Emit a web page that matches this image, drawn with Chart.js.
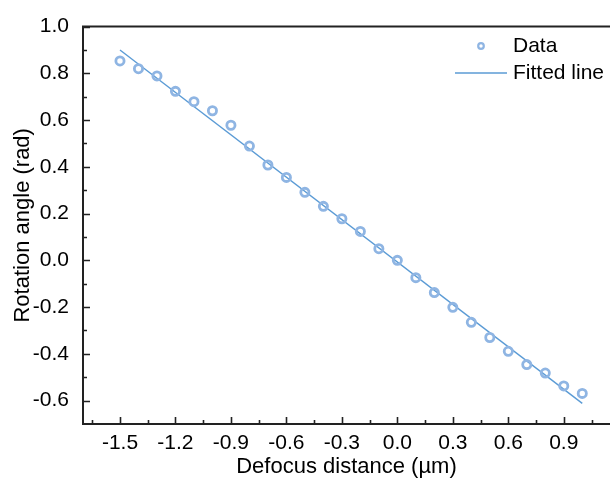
<!DOCTYPE html>
<html>
<head>
<meta charset="utf-8">
<script src="https://cdn.jsdelivr.net/npm/chart.js@4.4.0/dist/chart.umd.min.js"></script>
<style>
  html, body { margin: 0; padding: 0; background: #fff; }
  #wrap { width: 610px; height: 481px; }
</style>
</head>
<body>
<div id="wrap"><canvas id="chart" width="610" height="481"></canvas></div>
<script>
// measured points
var defocus = [-1.5, -1.4, -1.3, -1.2, -1.1, -1.0, -0.9, -0.8, -0.7, -0.6, -0.5, -0.4, -0.3,
               -0.2, -0.1, 0.0, 0.1, 0.2, 0.3, 0.4, 0.5, 0.6, 0.7, 0.8, 0.9, 1.0];
var rotation = [0.853, 0.820, 0.789, 0.723, 0.679, 0.640, 0.578, 0.489, 0.408, 0.355, 0.291, 0.231, 0.178,
                0.124, 0.050, 0.000, -0.074, -0.138, -0.201, -0.265, -0.330, -0.389, -0.446, -0.482, -0.537, -0.569];

// fitted line end points
var fitX = [-1.5, 1.0];
var fitY = [0.900, -0.612];

// axis ticks
var xTicks = [-1.5, -1.2, -0.9, -0.6, -0.3, 0.0, 0.3, 0.6, 0.9];
var xMinor = [-1.65, -1.35, -1.05, -0.75, -0.45, -0.15, 0.15, 0.45, 0.75, 1.05];
var yTicks = [-0.6, -0.4, -0.2, 0.0, 0.2, 0.4, 0.6, 0.8, 1.0];
var yMinor = [-0.5, -0.3, -0.1, 0.1, 0.3, 0.5, 0.7, 0.9];

var pointColor = '#8fb5e3';
var lineColor = '#5b9bd5';
var font = 'Liberation Sans, Arial, sans-serif';

// the plot runs off the right edge of the picture, so stretch the x axis to the canvas edge
var stretchPlugin = {
  id: 'stretch',
  afterLayout: function (chart) {
    var xs = chart.scales.x;
    xs.right = chart.width;
    xs.width = xs.right - xs.left;
    xs.configure();
    chart.chartArea.right = chart.width;
    chart.chartArea.width = chart.chartArea.right - chart.chartArea.left;
  }
};

var framePlugin = {
  id: 'frame',
  afterDraw: function (chart) {
    var ctx = chart.ctx;
    var a = chart.chartArea;
    var xs = chart.scales.x, ys = chart.scales.y;
    ctx.save();
    ctx.strokeStyle = '#222';
    ctx.lineWidth = 2;
    ctx.beginPath();
    ctx.moveTo(a.left, a.top); ctx.lineTo(a.left, a.bottom);
    ctx.moveTo(a.left - 1, a.bottom); ctx.lineTo(a.right, a.bottom);
    ctx.moveTo(a.left - 1, a.top); ctx.lineTo(a.right, a.top);
    ctx.stroke();

    ctx.lineWidth = 1.6;
    ctx.beginPath();
    xTicks.forEach(function (v) {
      var px = Math.round(xs.getPixelForValue(v)) + 0.5;
      ctx.moveTo(px, a.bottom); ctx.lineTo(px, a.bottom - 7);
    });
    xMinor.forEach(function (v) {
      var px = Math.round(xs.getPixelForValue(v)) + 0.5;
      ctx.moveTo(px, a.bottom); ctx.lineTo(px, a.bottom - 4);
    });
    yTicks.forEach(function (v) {
      var py = Math.round(ys.getPixelForValue(v)) + 0.5;
      ctx.moveTo(a.left, py); ctx.lineTo(a.left + 7, py);
    });
    yMinor.forEach(function (v) {
      var py = Math.round(ys.getPixelForValue(v)) + 0.5;
      ctx.moveTo(a.left, py); ctx.lineTo(a.left + 4, py);
    });
    ctx.stroke();

    // legend
    var ds = chart.data.datasets;
    var lx = 481, tx = 513;
    ctx.font = '21px ' + font;
    ctx.fillStyle = '#000';
    ctx.textBaseline = 'middle';
    ctx.textAlign = 'left';

    ctx.strokeStyle = ds[0].borderColor;
    ctx.lineWidth = 2.2;
    ctx.beginPath();
    ctx.arc(lx, 46, 2.8, 0, Math.PI * 2);
    ctx.stroke();
    ctx.fillText(ds[0].label, tx, 46);

    ctx.strokeStyle = ds[1].borderColor;
    ctx.lineWidth = 1.4;
    ctx.beginPath();
    ctx.moveTo(455, 73); ctx.lineTo(507, 73);
    ctx.stroke();
    ctx.fillText(ds[1].label, tx, 73);
    ctx.restore();
  }
};

new Chart(document.getElementById('chart'), {
  type: 'scatter',
  data: {
    datasets: [
      {
        label: 'Data',
        data: defocus.map(function (x, i) { return { x: x, y: rotation[i] }; }),
        showLine: false,
        pointRadius: 4.1,
        pointBorderWidth: 2.8,
        pointBackgroundColor: 'rgba(0,0,0,0)',
        borderColor: pointColor,
        pointBorderColor: pointColor
      },
      {
        label: 'Fitted line',
        data: fitX.map(function (x, i) { return { x: x, y: fitY[i] }; }),
        showLine: true,
        pointRadius: 0,
        borderWidth: 1.4,
        borderColor: lineColor
      }
    ]
  },
  options: {
    responsive: false,
    devicePixelRatio: 1,
    animation: false,
    layout: { padding: { top: 23, right: 0, left: 0, bottom: 0 } },
    plugins: { legend: { display: false }, tooltip: { enabled: false } },
    scales: {
      x: {
        type: 'linear',
        min: -1.7,
        max: 1.15,
        afterBuildTicks: function (s) { s.ticks = xTicks.map(function (v) { return { value: v }; }); },
        afterFit: function (s) { s.height = 57; s.paddingLeft = 0; s.paddingRight = 0; },
        grid: { display: false, drawTicks: false },
        border: { display: false },
        ticks: {
          color: '#000',
          padding: 7,
          maxRotation: 0,
          font: { family: font, size: 21 },
          callback: function (v) { return v.toFixed(1); }
        },
        title: {
          display: true,
          text: 'Defocus distance (\u00b5m)',
          color: '#000',
          padding: { top: 0, bottom: 1 },
          font: { family: font, size: 22 }
        }
      },
      y: {
        type: 'linear',
        min: -0.7,
        max: 1.0,
        afterBuildTicks: function (s) { s.ticks = yTicks.map(function (v) { return { value: v }; }); },
        afterFit: function (s) { s.width = 83; },
        grid: { display: false, drawTicks: false },
        border: { display: false },
        ticks: {
          color: '#000',
          padding: 14,
          font: { family: font, size: 21 },
          callback: function (v) { return v.toFixed(1); }
        },
        title: {
          display: true,
          text: 'Rotation angle (rad)',
          color: '#000',
          padding: { top: 10, bottom: 0 },
          font: { family: font, size: 22 }
        }
      }
    }
  },
  plugins: [stretchPlugin, framePlugin]
});
</script>
</body>
</html>
